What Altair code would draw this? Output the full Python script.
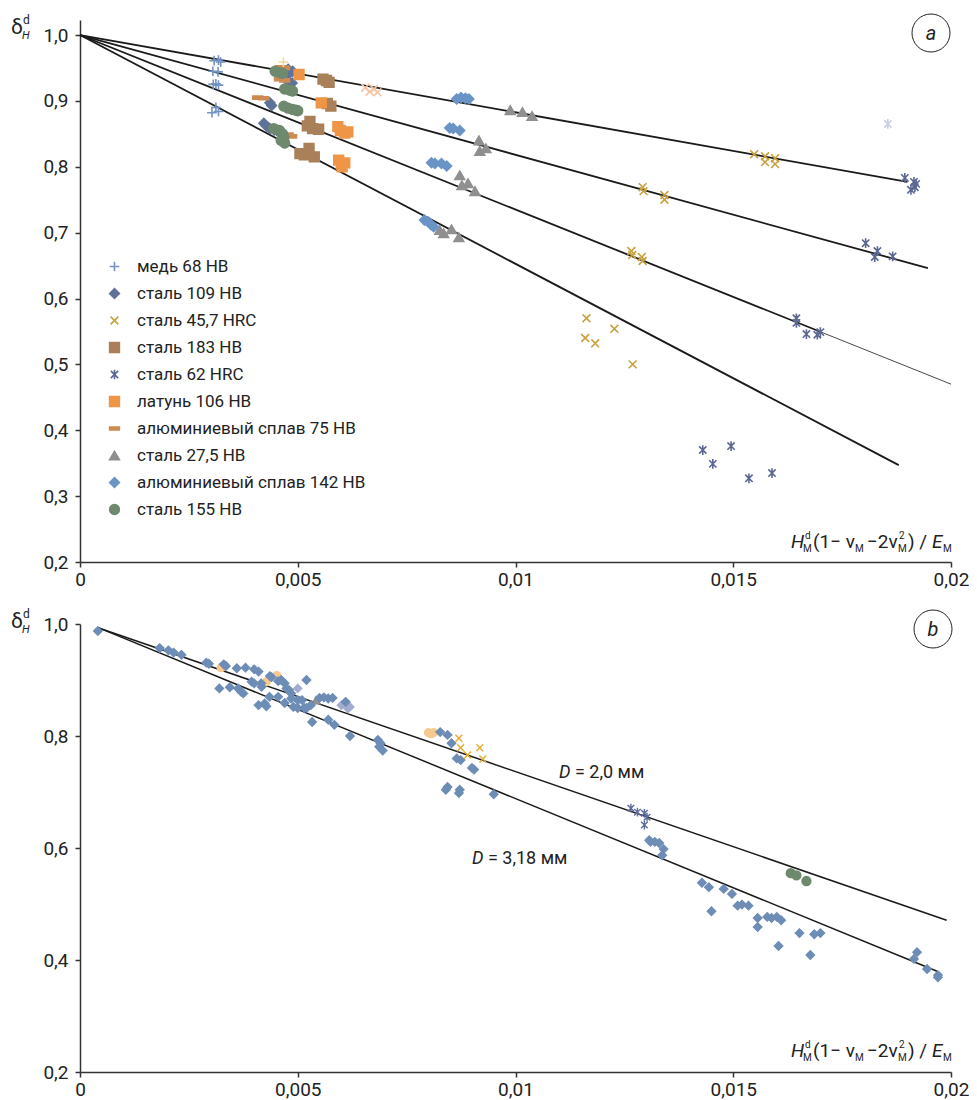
import altair as alt
import pandas as pd

FONT = "Roboto"

# ---------------- panel (a) data ----------------
labels_a = ["медь 68 HB", "сталь 109 HB", "сталь 45,7 HRC", "сталь 183 HB", "сталь 62 HRC",
            "латунь 106 HB", "алюминиевый сплав 75 HB", "сталь  27,5 HB",
            "алюминиевый сплав 142 HB", "сталь 155 HB"]
extras_a = ["pale1", "pale2", "pale3"]

cu_x = [0.00308, 0.00318, 0.00323, 0.00305, 0.00317, 0.00306, 0.00318, 0.00312, 0.00312, 0.00303, 0.00318]
cu_y = [0.961, 0.962, 0.959, 0.945, 0.944, 0.925, 0.924, 0.926, 0.890, 0.882, 0.884]

st109_x = [0.00478, 0.00488, 0.00482, 0.00478, 0.00487, 0.00436, 0.00440, 0.00422, 0.00428, 0.00436, 0.00446, 0.00452]
st109_y = [0.948, 0.945, 0.943, 0.930, 0.927, 0.897, 0.893, 0.866, 0.862, 0.858, 0.856, 0.855]

st457_x = [0.01548, 0.01573, 0.01573, 0.01596, 0.01596, 0.01292, 0.01294, 0.01342, 0.01342,
           0.01266, 0.01268, 0.01290, 0.01292, 0.01163, 0.01160, 0.01183, 0.01227, 0.01269]
st457_y = [0.819, 0.816, 0.807, 0.813, 0.804, 0.769, 0.763, 0.757, 0.750,
           0.672, 0.666, 0.663, 0.657, 0.570, 0.540, 0.532, 0.554, 0.500]

st183_x = [0.00558, 0.00566, 0.00572, 0.00568, 0.00576, 0.00528, 0.00522, 0.00534, 0.00548,
           0.00526, 0.00505, 0.00515, 0.00538]
st183_y = [0.933, 0.931, 0.928, 0.896, 0.892, 0.869, 0.862, 0.858, 0.857,
           0.828, 0.820, 0.818, 0.815]

st62_x = [0.01894, 0.01915, 0.01917, 0.01908, 0.01920, 0.01804, 0.01831, 0.01825, 0.01866,
          0.01645, 0.01645, 0.01668, 0.01693, 0.01700, 0.01430, 0.01453, 0.01495, 0.01536, 0.01589]
st62_y = [0.783, 0.777, 0.769, 0.765, 0.774, 0.684, 0.672, 0.663, 0.664,
          0.570, 0.563, 0.546, 0.545, 0.549, 0.370, 0.349, 0.376, 0.327, 0.335]

brass_x = [0.00503, 0.00554, 0.00592, 0.00598, 0.00608, 0.00615, 0.00594, 0.00600, 0.00608, 0.00602]
brass_y = [0.940, 0.897, 0.861, 0.855, 0.851, 0.853, 0.810, 0.804, 0.806, 0.800]

al75_x = [0.00460, 0.00470, 0.00458, 0.00470, 0.00408, 0.00422, 0.00478, 0.00486]
al75_y = [0.951, 0.950, 0.933, 0.931, 0.905, 0.904, 0.849, 0.846]

st275_x = [0.00988, 0.01016, 0.01038, 0.00916, 0.00918, 0.00932, 0.00872, 0.00877, 0.00891, 0.00907,
           0.00826, 0.00835, 0.00853, 0.00870]
st275_y = [0.886, 0.883, 0.877, 0.840, 0.824, 0.828, 0.787, 0.772, 0.775, 0.763,
           0.704, 0.699, 0.705, 0.693]

al142_x = [0.00865, 0.00875, 0.00885, 0.00893, 0.00849, 0.00857, 0.00872, 0.00807, 0.00815, 0.00830,
           0.00842, 0.00791, 0.00800, 0.00806, 0.00812]
al142_y = [0.903, 0.905, 0.904, 0.903, 0.859, 0.858, 0.855, 0.806, 0.805, 0.805,
           0.801, 0.719, 0.716, 0.712, 0.709]

st155_x = [0.00448, 0.00458, 0.00465, 0.00470, 0.00482, 0.00488, 0.00468, 0.00478, 0.00488, 0.00496,
           0.00500, 0.00445, 0.00458, 0.00465, 0.00468, 0.00462, 0.00470]
st155_y = [0.945, 0.943, 0.942, 0.918, 0.916, 0.915, 0.892, 0.889, 0.887, 0.886,
           0.885, 0.858, 0.855, 0.850, 0.845, 0.840, 0.836]

pale1_x = [0.00655, 0.00665, 0.00675, 0.00683]
pale1_y = [0.920, 0.914, 0.918, 0.913]
pale2_x = [0.01855]
pale2_y = [0.865]
pale3_x = [0.00467]
pale3_y = [0.959]

# fitted lines of panel (a): all start at (0, 1)
fit_a_end_x = [0.01900, 0.01947, 0.01700, 0.01880]
fit_a_end_y = [0.777, 0.646, 0.5495, 0.347]
fit_a_ext_x = [0.01700, 0.02000]
fit_a_ext_y = [0.5495, 0.470]

# ---------------- panel (b) data ----------------
bd_x = [0.00041, 0.00183, 0.00203, 0.00215, 0.00233, 0.00290, 0.00296, 0.00330, 0.00335,
        0.00360, 0.00380, 0.00400, 0.00410, 0.00436, 0.00440, 0.00455, 0.00462, 0.00470, 0.00474, 0.00485,
        0.00520, 0.00320, 0.00344, 0.00363, 0.00370, 0.00375, 0.00394, 0.00416, 0.00400, 0.00417,
        0.00410, 0.00424, 0.00428, 0.00435, 0.00455, 0.00470, 0.00490, 0.00500,
        0.00480, 0.00485, 0.00500, 0.00510, 0.00515, 0.00520, 0.00530,
        0.00550, 0.00560, 0.00570, 0.00580, 0.00610, 0.00533, 0.00570, 0.00584, 0.00620,
        0.00684, 0.00687, 0.00690, 0.00695, 0.00827, 0.00844, 0.00853,
        0.00865, 0.00874, 0.00900, 0.00905, 0.00844, 0.00840, 0.00872, 0.00870, 0.00950,
        0.01307, 0.01310, 0.01320, 0.01330, 0.01340, 0.01337,
        0.01428, 0.01444, 0.01450, 0.01478, 0.01497, 0.01510, 0.01520, 0.01535,
        0.01556, 0.01578, 0.01588, 0.01600, 0.01610, 0.01556, 0.01604, 0.01652, 0.01677, 0.01686, 0.01700,
        0.01915, 0.01922, 0.01945, 0.01970, 0.01970]
bd_y = [0.9875, 0.957, 0.953, 0.949, 0.945, 0.931, 0.929, 0.928, 0.925,
        0.921, 0.922, 0.919, 0.915, 0.907, 0.905, 0.898, 0.900, 0.894, 0.885, 0.876,
        0.900, 0.885, 0.887, 0.885, 0.879, 0.876, 0.897, 0.894, 0.894, 0.888,
        0.855, 0.858, 0.853, 0.870, 0.870, 0.859, 0.852, 0.850,
        0.882, 0.867, 0.864, 0.864, 0.850, 0.850, 0.855,
        0.868, 0.869, 0.867, 0.868, 0.861, 0.825, 0.829, 0.820, 0.800,
        0.793, 0.781, 0.787, 0.774, 0.807, 0.802, 0.787,
        0.760, 0.757, 0.743, 0.740, 0.709, 0.704, 0.704, 0.698, 0.696,
        0.614, 0.611, 0.611, 0.609, 0.598, 0.587,
        0.538, 0.530, 0.487, 0.527, 0.518, 0.497, 0.499, 0.497,
        0.475, 0.477, 0.475, 0.477, 0.471, 0.459, 0.425, 0.448, 0.409, 0.446, 0.448,
        0.402, 0.414, 0.384, 0.373, 0.369]

bx_x = [0.00870, 0.00874, 0.00890, 0.00918, 0.00925]
bx_y = [0.796, 0.779, 0.766, 0.779, 0.759]
bs_x = [0.01265, 0.01280, 0.01296, 0.01302, 0.01296]
bs_y = [0.671, 0.664, 0.662, 0.655, 0.641]
bc_x = [0.01632, 0.01645, 0.01668]
bc_y = [0.555, 0.551, 0.541]
bo_x = [0.00800, 0.00806, 0.00812, 0.00324, 0.00452, 0.00428]
bo_y = [0.806, 0.804, 0.806, 0.922, 0.908, 0.897]
bt_x = [0.00542]
bt_y = [0.864]
bl_x = [0.00500, 0.00600, 0.00620, 0.00615]
bl_y = [0.885, 0.855, 0.852, 0.849]

fit_b_start_x = 0.00043
fit_b_start_y = 0.993
fit_b_end_x = [0.01990, 0.01968]
fit_b_end_y = [0.471, 0.380]

# ---------------- styles ----------------
PLUS = "M-1,0H1M0,-1V1"
XSH = "M-0.8,-0.8L0.8,0.8M-0.8,0.8L0.8,-0.8"
STAR = "M-0.75,-0.75L0.75,0.75M-0.75,0.75L0.75,-0.75M0,-1V1"
DASH = "M-1,-0.32H1V0.32H-1Z"

cols_a = ["#7393c0", "#5f7399", "#c9a03e", "#a98059", "#5b6792", "#ee9547", "#cd8a52", "#8f8f8f",
          "#6b94c6", "#6e896d", "#f4c3a5", "#c9cde0", "#f1dc9e"]
shapes_a = [PLUS, "diamond", XSH, "square", STAR, "square", DASH, "triangle-up", "diamond", "circle",
            XSH, STAR, PLUS]

# ---------------- frames ----------------
series_a = [cu_x, st109_x, st457_x, st183_x, st62_x, brass_x, al75_x, st275_x, al142_x, st155_x,
            pale1_x, pale2_x, pale3_x]
series_a_y = [cu_y, st109_y, st457_y, st183_y, st62_y, brass_y, al75_y, st275_y, al142_y, st155_y,
              pale1_y, pale2_y, pale3_y]
dom_a = labels_a + extras_a
rows = []
for name, xs, ys in zip(dom_a, series_a, series_a_y):
    for xv, yv in zip(xs, ys):
        rows.append({"x": xv, "y": yv, "s": name})
df_a = pd.DataFrame(rows)

lines_a = []
for i, (ex, ey) in enumerate(zip(fit_a_end_x, fit_a_end_y)):
    lines_a.append({"x": 0.0, "y": 1.0, "id": i})
    lines_a.append({"x": ex, "y": ey, "id": i})
df_la = pd.DataFrame(lines_a)
df_lext = pd.DataFrame({"x": fit_a_ext_x, "y": fit_a_ext_y})

# drawing order: faint series first, then the diamonds and others on top
dom_b = ["o", "l", "t", "d", "x", "s", "c"]
cols_b = ["#f7c98f", "#a3abd0", "#8f8f8f", "#6d8db6", "#e3ab2f", "#5d6a9c", "#6e896d"]
shapes_b = ["circle", "diamond", "triangle-up", "diamond", XSH, STAR, "circle"]
rows = []
for name, xs, ys in zip(dom_b, [bo_x, bl_x, bt_x, bd_x, bx_x, bs_x, bc_x],
                        [bo_y, bl_y, bt_y, bd_y, bx_y, bs_y, bc_y]):
    for xv, yv in zip(xs, ys):
        rows.append({"x": xv, "y": yv, "s": name})
df_b = pd.DataFrame(rows)
lines_b = []
for i, (ex, ey) in enumerate(zip(fit_b_end_x, fit_b_end_y)):
    lines_b.append({"x": fit_b_start_x, "y": fit_b_start_y, "id": i})
    lines_b.append({"x": ex, "y": ey, "id": i})
df_lb = pd.DataFrame(lines_b)

# ---------------- geometry ----------------
W = 871
HA = 542
HB = 448
TXT = "#222222"
AX = "#333333"
one = pd.DataFrame({"k": [0]})


def txt(s, x, y, size=18, style="normal", align="left", baseline="alphabetic"):
    return alt.Chart(one).mark_text(text=s, font=FONT, fontSize=size, fontStyle=style, align=align,
                                    baseline=baseline, color=TXT).encode(x=alt.value(x), y=alt.value(y))


def circ(x, y, letter):
    c = alt.Chart(one).mark_point(shape="circle", size=1444, filled=False, stroke="#222222",
                                  strokeWidth=1, opacity=1).encode(x=alt.value(x), y=alt.value(y))
    t = txt(letter, x, y + 7, size=20, style="italic", align="center")
    return [c, t]


def ylabel(y0):
    return [txt("δ", -69, y0 + 14, size=21),
            txt("d", -57, y0 + 4, size=12),
            txt("H", -58, y0 + 19, size=11, style="italic")]


def xtitle(x0, y0):
    big, small = 19, 10
    return [txt("H", x0, y0, big, "italic"),
            txt("d", x0 + 14, y0 - 9, small),
            txt("М", x0 + 12, y0 + 4, small),
            txt("(1− ν", x0 + 22, y0, big),
            txt("М", x0 + 64, y0 + 4, small),
            txt("−2ν", x0 + 76, y0, big),
            txt("2", x0 + 108, y0 - 9, small),
            txt("М", x0 + 107, y0 + 4, small),
            txt(") /", x0 + 117, y0, big),
            txt("E", x0 + 141, y0, big, "italic"),
            txt("М", x0 + 152, y0 + 4, small)]


def xaxis():
    return alt.Axis(values=[0, 0.005, 0.01, 0.015, 0.02],
                    labelExpr="replace(format(datum.value, '.3~f'), '.', ',')",
                    title=None, grid=False, domainColor=AX, tickColor=AX, domainWidth=1.5, tickWidth=1.5,
                    tickSize=5, labelFont=FONT, labelFontSize=19, labelColor=TXT, labelPadding=3,
                    labelFlush=False)


def yaxis(vals):
    return alt.Axis(values=vals, labelExpr="replace(format(datum.value, '.1f'), '.', ',')",
                    title=None, grid=False, domainColor=AX, tickColor=AX, domainWidth=1.5, tickWidth=1.5,
                    tickSize=5, labelFont=FONT, labelFontSize=19, labelColor=TXT, labelPadding=7,
                    labelFlush=False)


xs_a = alt.Scale(domain=[0, 0.02], nice=False, zero=False)
ys_a = alt.Scale(domain=[0.2, 1.0228], nice=False, zero=False)

leg = alt.Legend(title=None, orient="none", legendX=26, legendY=238, values=labels_a,
                 labelFont=FONT, labelFontSize=17, labelColor=TXT, symbolSize=95, labelLimit=400,
                 symbolStrokeWidth=1.6, rowPadding=9, labelOffset=14, padding=0)

pts_a = alt.Chart(df_a).mark_point(filled=True, size=95, strokeWidth=1.6, opacity=1).encode(
    x=alt.X("x:Q", scale=xs_a, axis=xaxis()),
    y=alt.Y("y:Q", scale=ys_a, axis=yaxis([0.2, 0.3, 0.4, 0.5, 0.6, 0.7, 0.8, 0.9, 1.0])),
    fill=alt.Fill("s:N", scale=alt.Scale(domain=dom_a, range=cols_a), legend=leg),
    stroke=alt.Stroke("s:N", scale=alt.Scale(domain=dom_a, range=cols_a), legend=leg),
    shape=alt.Shape("s:N", scale=alt.Scale(domain=dom_a, range=shapes_a), legend=leg),
)
ln_a = alt.Chart(df_la).mark_line(color="#1a1a1a", strokeWidth=1.8).encode(
    x=alt.X("x:Q", scale=xs_a), y=alt.Y("y:Q", scale=ys_a), detail="id:N")
ln_ext = alt.Chart(df_lext).mark_line(color="#1a1a1a", strokeWidth=0.8).encode(
    x=alt.X("x:Q", scale=xs_a), y=alt.Y("y:Q", scale=ys_a))

panel_a = alt.layer(ln_a, ln_ext, pts_a, *circ(851, 13, "a"), *ylabel(0), *xtitle(711, 528)).properties(
    width=W, height=HA)

xs_b = alt.Scale(domain=[0, 0.02], nice=False, zero=False)
ys_b = alt.Scale(domain=[0.2, 1.0], nice=False, zero=False)
pts_b = alt.Chart(df_b).mark_point(filled=True, size=95, strokeWidth=1.4, opacity=1).encode(
    x=alt.X("x:Q", scale=xs_b, axis=xaxis()),
    y=alt.Y("y:Q", scale=ys_b, axis=yaxis([0.2, 0.4, 0.6, 0.8, 1.0])),
    fill=alt.Fill("s:N", scale=alt.Scale(domain=dom_b, range=cols_b), legend=None),
    stroke=alt.Stroke("s:N", scale=alt.Scale(domain=dom_b, range=cols_b), legend=None),
    shape=alt.Shape("s:N", scale=alt.Scale(domain=dom_b, range=shapes_b), legend=None),
    size=alt.Size("s:N", scale=alt.Scale(domain=dom_b, range=[60, 80, 80, 95, 90, 90, 95]), legend=None),
)
ln_b = alt.Chart(df_lb).mark_line(color="#1a1a1a", strokeWidth=1.5).encode(
    x=alt.X("x:Q", scale=xs_b), y=alt.Y("y:Q", scale=ys_b), detail="id:N")

dlab = [txt("D", 479, 154, 18, "italic"), txt("= 2,0 мм", 495, 154, 18),
        txt("D", 392, 240, 18, "italic"), txt("= 3,18 мм", 408, 240, 18)]

panel_b = alt.layer(ln_b, pts_b, *circ(853, 5, "b"), *ylabel(-10), *dlab, *xtitle(711, 433)).properties(
    width=W, height=HB).resolve_scale(fill="independent", stroke="independent", shape="independent")

chart = alt.vconcat(panel_a, panel_b, spacing=62, bounds="flush").resolve_scale(
    fill="independent", stroke="independent", shape="independent", x="independent", y="independent"
).properties(padding={"left": 3, "top": 4, "right": 0, "bottom": 0}).configure_view(stroke=None)

chart.save("out.html", embed_options={"renderer": "svg", "actions": False})
